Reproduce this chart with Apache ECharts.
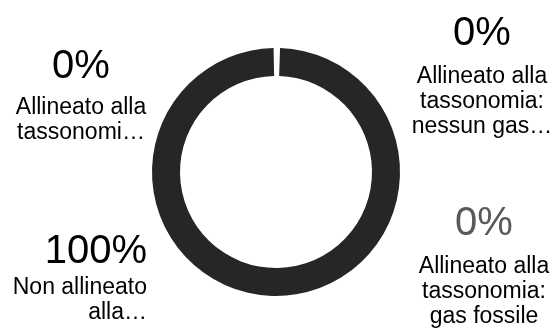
<!DOCTYPE html>
<html>
<head>
<meta charset="utf-8">
<script src="https://cdn.jsdelivr.net/npm/echarts@6/dist/echarts.min.js"></script>
<style>
  html, body { margin: 0; padding: 0; background: #fff; }
  #chart { width: 557px; height: 329px; }
</style>
</head>
<body>
<div id="chart"></div>
<script>
// Data
const categories = [
  'Allineato alla tassonomia: nessun gas fossile',
  'Allineato alla tassonomia: gas fossile',
  'Non allineato alla tassonomia',
  'Allineato alla tassonomia'
];
const values = [0, 0, 100, 0];
const valueLabels = ['0%', '0%', '100%', '0%'];
const nameLabels = [
  ['Allineato alla', 'tassonomia:', 'nessun gas…'],
  ['Allineato alla', 'tassonomia:', 'gas fossile'],
  ['Non allineato', 'alla…'],
  ['Allineato alla', 'tassonomi…']
];

// Layout (label placement and styles)
const labelPlace = [
  { x: 482, y: 4, align: 'center', gap: 60, vColor: '#000' },
  { x: 484, y: 194, align: 'center', gap: 60, vColor: '#595959' },
  { x: 147, y: 228, align: 'right', gap: 47, vColor: '#000' },
  { x: 81, y: 39, align: 'center', gap: 56, vColor: '#000' }
];

const chart = echarts.init(document.getElementById('chart'), null, { renderer: 'canvas' });

const seriesData = categories.map((c, i) => ({
  name: c,
  value: values[i],
  label: {
    formatter: '{v|' + valueLabels[i] + '}\n' + nameLabels[i].map(s => '{n|' + s + '}').join('\n'),
    align: labelPlace[i].align,
    rich: {
      v: { fontSize: 40, lineHeight: labelPlace[i].gap, color: labelPlace[i].vColor, fontFamily: 'Liberation Sans, Arial, sans-serif', align: labelPlace[i].align },
      n: { fontSize: 23, lineHeight: 25, color: '#000', fontFamily: 'Liberation Sans, Arial, sans-serif', align: labelPlace[i].align }
    }
  }
}));

chart.setOption({
  animation: false,
  series: [{
    type: 'pie',
    center: [276, 172],
    radius: [96, 124],
    startAngle: 90,
    clockwise: true,
    padAngle: 0.75,
    avoidLabelOverlap: false,
    itemStyle: { color: '#262626' },
    label: { show: true, position: 'outside' },
    labelLine: { show: false },
    labelLayout: function (params) {
      const p = labelPlace[params.dataIndex];
      return { x: p.x, y: p.y, align: p.align, verticalAlign: 'top' };
    },
    data: seriesData
  }]
});
</script>
</body>
</html>
